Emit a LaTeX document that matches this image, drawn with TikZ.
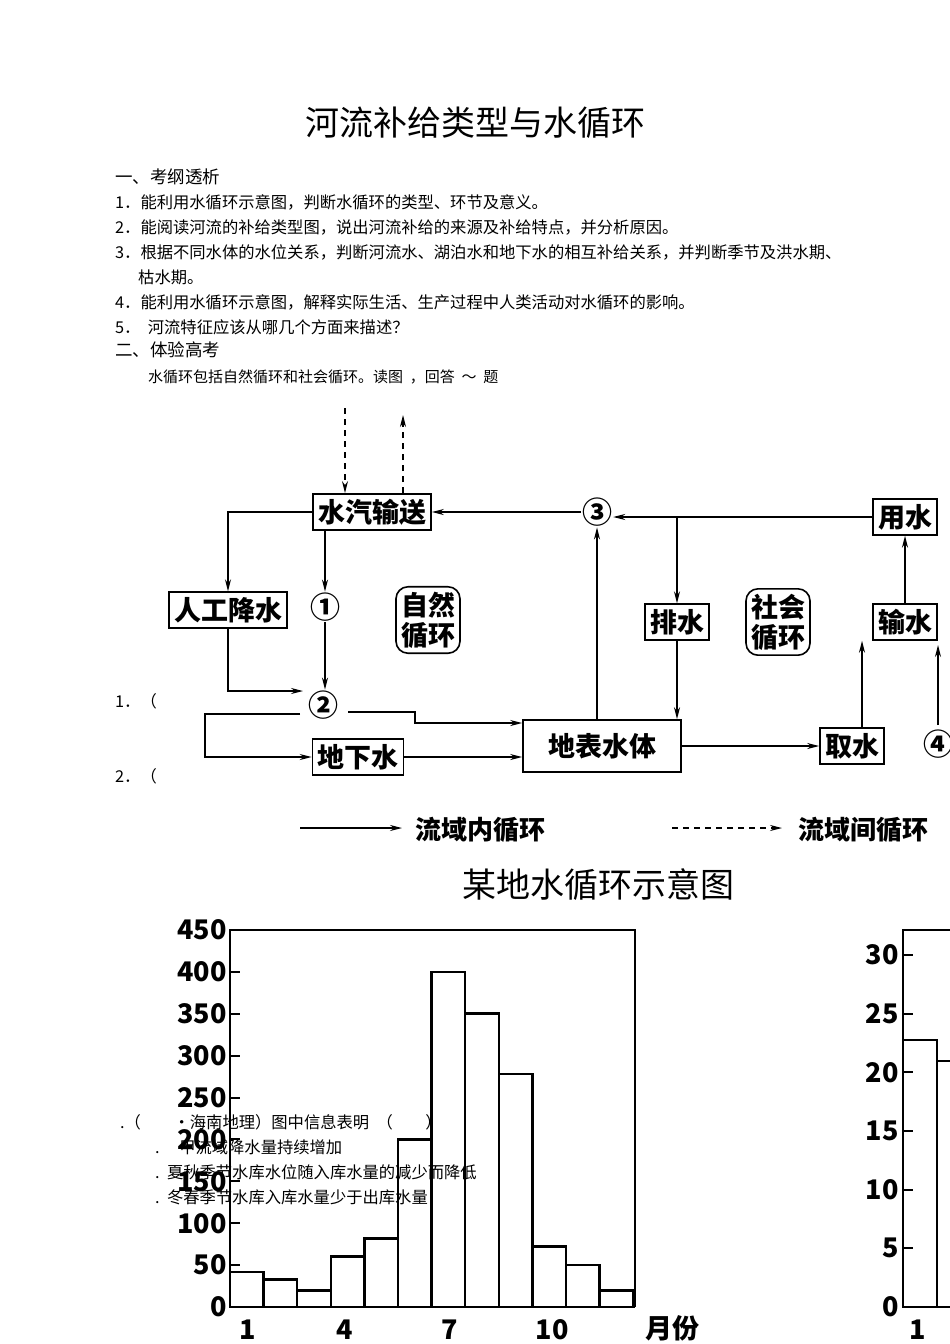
\documentclass[tikz,border=0pt]{standalone}
\usepackage{fontspec}
\setmainfont{Noto Sans CJK SC}
\usetikzlibrary{arrows.meta}
\begin{document}
\begin{tikzpicture}[x=1pt,y=-1pt,
  bx/.style={draw,line width=1.6pt,inner xsep=5pt,inner ysep=5pt,font=\fontsize{27}{27}\selectfont\bfseries},
  rb/.style={draw,line width=1.6pt,rounded corners=12pt,align=center,inner sep=5pt,font=\fontsize{27}{30}\selectfont\bfseries},
  cn/.style={font=\fontsize{30}{30}\selectfont\bfseries,inner sep=1pt},
  ar/.style={line width=1.4pt,-{Stealth[length=12pt,width=6pt]}},
  dsh/.style={dash pattern=on 6pt off 5pt},
  tx/.style={anchor=west,inner sep=0,font=\fontsize{16.3}{16.3}\selectfont},
  bar/.style={draw,line width=2.5pt,fill=white},
  ax/.style={font=\fontsize{27}{27}\selectfont\bfseries,inner sep=0}]
\useasboundingbox[fill=white] (0,0) rectangle (950,1344);
\node[font=\fontsize{34}{34}\selectfont] (title) at (475,123) {河流补给类型与水循环};
\node[tx,font=\fontsize{17.5}{17.5}\selectfont] (h1) at (115,177) {一、考纲透析};
\node[tx] (l1) at (115,202) {1．能利用水循环示意图，判断水循环的类型、环节及意义。};
\node[tx] (l2) at (115,227) {2．能阅读河流的补给类型图，说出河流补给的来源及补给特点，并分析原因。};
\node[tx] (l3) at (115,252) {3．根据不同水体的水位关系，判断河流水、湖泊水和地下水的相互补给关系，并判断季节及洪水期、};
\node[tx] (l3b) at (138,277) {枯水期。};
\node[tx] (l4) at (115,302) {4．能利用水循环示意图，解释实际生活、生产过程中人类活动对水循环的影响。};
\node[tx] (l5) at (115,327) {5．\ \ 河流特征应该从哪几个方面来描述？};
\node[tx,font=\fontsize{17.5}{17.5}\selectfont] (h2) at (115,350) {二、体验高考};
\node[tx,font=\fontsize{15}{15}\selectfont] (intro) at (148,377) {水循环包括自然循环和社会循环。读图\ \ ，回答\ \ ～\ \ 题};
\node[tx] (q1) at (115,701) {1．（};
\node[tx] (q2) at (115,776) {2．（};
% diagram
\node[bx] (vap) at (372,512) {水汽输送};
\node[cn] (c3) at (597,512) {③};
\node[bx] (use) at (905,517) {用水};
\node[bx] (rain) at (228,610) {人工降水};
\node[cn] (c1) at (325,607) {①};
\node[rb] (nat) at (428,620) {自然\\循环};
\node[bx] (drain) at (677,622) {排水};
\node[rb] (soc) at (778,622) {社会\\循环};
\node[bx] (trans) at (905,622) {输水};
\node[cn] (c2) at (323,705) {②};
\node[bx] (gw) at (358,757) {地下水};
\node[bx,minimum width=158pt,minimum height=52pt] (surf) at (602,746) {地表水体};
\node[bx] (take) at (852,746) {取水};
\node[cn,anchor=west] (c4) at (922,744) {④};
\coordinate (d1) at (345,408); \coordinate (d2) at (403,415);
\draw[ar,dsh] (d1) -- (d1 |- vap.north);
\draw[ar,dsh] (d2 |- vap.north) -- (d2);
\draw[ar] (vap.west) -| (rain.north);
\draw[ar] (c1 |- vap.south) -- (c1.north);
\draw[ar] (c1.south) -- (c1 |- c2.north);
\coordinate (r2) at (303,691);
\draw[ar] (rain.south) |- (r2);
\coordinate (g1) at (300,714);
\draw[ar] (g1) -- (205,714) |- (gw.west);
\coordinate (s1) at (348,712);
\draw[ar] (s1) -- (415,712) -- (415,723) -- (surf.west |- 0,723);
\draw[ar] (gw.east) -- (gw.east -| surf.west);
\draw[ar] (c3 |- surf.north) -- (c3.south);
\draw[ar] (c3.west) -- (vap.east);
\draw[ar] (use.west) -- (c3.east |- use.west);
\draw[ar] (drain.north |- use.west) -- (drain.north);
\draw[ar] (drain.south) -- (drain.south |- surf.north);
\draw[ar] (surf.east) -- (take.west);
\draw[ar] (862,0 |- take.north) -- (862,0 |- trans.south);
\draw[ar] (trans.north) -- (use.south);
\draw[ar] (938,725) -- (938,645);
\coordinate (ls1) at (300,828); \coordinate (ls2) at (402,828);
\coordinate (ld1) at (672,828); \coordinate (ld2) at (782,828);
\draw[ar] (ls1) -- (ls2);
\node[font=\fontsize{26}{26}\selectfont\bfseries,anchor=west] (lt1) at (412,830) {流域内循环};
\draw[ar,dsh] (ld1) -- (ld2);
\node[font=\fontsize{26}{26}\selectfont\bfseries,anchor=west] (lt2) at (795,830) {流域间循环};
\node[font=\fontsize{34}{34}\selectfont] (cap) at (598,885) {某地水循环示意图};
% left chart
\foreach \h [count=\i] in {42,33,20,60,82,200,400,350,278,72,50,20}{
  \draw[bar] ({230+(\i-1)*33.6},1307) rectangle ({230+\i*33.6},{1307-\h*0.838});
}
\draw[line width=2.5pt] (230,1307) -- (230,930) -- (635,930) -- (635,1307);
\draw[line width=2.5pt] (230,1307) -- (635,1307);
\foreach \t in {0,50,...,450}{
  \draw[line width=2pt] (230,{1307-\t*0.838}) -- (240,{1307-\t*0.838});
  \node[ax,anchor=east] at (227,{1307-\t*0.838}) {\t};
}
\foreach \m/\x in {1/248,4/345,7/450,10/552}{\node[ax] at (\x,1330) {\m};}
\node[ax] (mon) at (672,1328) {月份};
% right chart
\draw[bar] (903,1307) rectangle (937,1040);
\draw[bar] (937,1307) rectangle (960,1061);
\draw[line width=2.5pt] (903,1307) -- (903,930) -- (960,930);
\draw[line width=2.5pt] (903,1307) -- (960,1307);
\foreach \t in {0,5,...,30}{
  \draw[line width=2pt] (903,{1307-\t*11.73}) -- (913,{1307-\t*11.73});
  \node[ax,anchor=east] at (899,{1307-\t*11.73}) {\t};
}
\node[ax] at (918,1330) {1};
% overlay question text
\node[tx] (q3) at (120,1122) {.（\hspace{2em}·海南地理）图中信息表明 \ （\hspace{2em}）};
\node[tx] (qa) at (155,1147) {.\hspace{1.2em}甲流域降水量持续增加};
\node[tx] (qb) at (155,1172) {.\ \ 夏秋季节水库水位随入库水量的减少而降低};
\node[tx] (qc) at (155,1197) {.\ \ 冬春季节水库入库水量少于出库水量};
\end{tikzpicture}
\end{document}
